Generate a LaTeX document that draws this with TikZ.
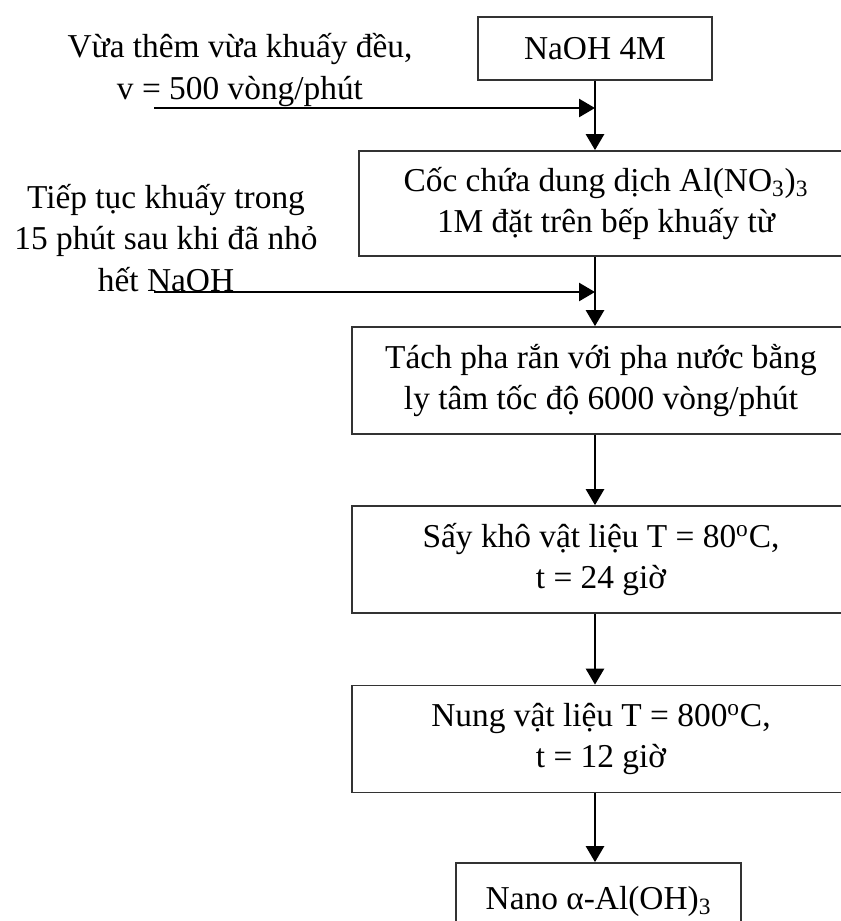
\documentclass[tikz,border=0pt]{standalone}
\usepackage{fontspec}
\setmainfont{Liberation Serif}
\usetikzlibrary{positioning, arrows.meta}

\begin{document}
\begin{tikzpicture}[x=0.02cm, y=-0.02cm,
    font=\fontsize{19}{23.5}\selectfont,
    stepbox/.style={rectangle, draw=black!80, line width=1pt, inner sep=0pt, align=center, minimum width=9.96cm, minimum height=2.14cm},
    note/.style={align=center, inner sep=0pt},
    flow/.style={-{Triangle[length=0.32cm, width=0.36cm]}, line width=1.5pt}]

    \useasboundingbox (0,0) rectangle (841,921);
    \clip (0,0) rectangle (841,921);

    \node[stepbox, minimum width=4.68cm, minimum height=1.26cm] (naoh) at (595,48.5) {NaOH 4M};
    \node[stepbox, minimum width=9.88cm, minimum height=2.1cm] (coc) at (606,203.5) {Cốc chứa dung dịch Al(NO\textsubscript{3})\textsubscript{3}\\1M đặt trên bếp khuấy từ};
    \node[stepbox] (tach) at (601,380.5) {Tách pha rắn với pha nước bằng\\ly tâm tốc độ 6000 vòng/phút};
    \node[stepbox] (say) at (601,559.5) {Sấy khô vật liệu T = 80\textsuperscript{o}C,\\t = 24 giờ};
    \node[stepbox] (nung) at (601,739) {Nung vật liệu T = 800\textsuperscript{o}C,\\t = 12 giờ};
    \node[stepbox, minimum width=5.7cm, minimum height=1.52cm] (nano) at (598.5,901) {Nano α-Al(OH)\textsubscript{3}};

    \node[note] (stir) at (240,70) {Vừa thêm vừa khuấy đều,\\v = 500 vòng/phút};
    \node[note] (cont) at (166,238) {Tiếp tục khuấy trong\\15 phút sau khi đã nhỏ\\hết NaOH};

    \coordinate (s1) at (154,108);
    \coordinate (s2) at (154,292);

    \draw[flow] (naoh.south) -- (naoh.south |- coc.north);
    \draw[flow] (coc.south -| naoh.south) -- (tach.north -| naoh.south);
    \draw[flow] (tach.south -| naoh.south) -- (say.north -| naoh.south);
    \draw[flow] (say.south -| naoh.south) -- (nung.north -| naoh.south);
    \draw[flow] (nung.south -| naoh.south) -- (nano.north -| naoh.south);

    \draw[flow] (s1) -- (s1 -| naoh.south);
    \draw[flow] (s2) -- (s2 -| naoh.south);
\end{tikzpicture}
\end{document}
